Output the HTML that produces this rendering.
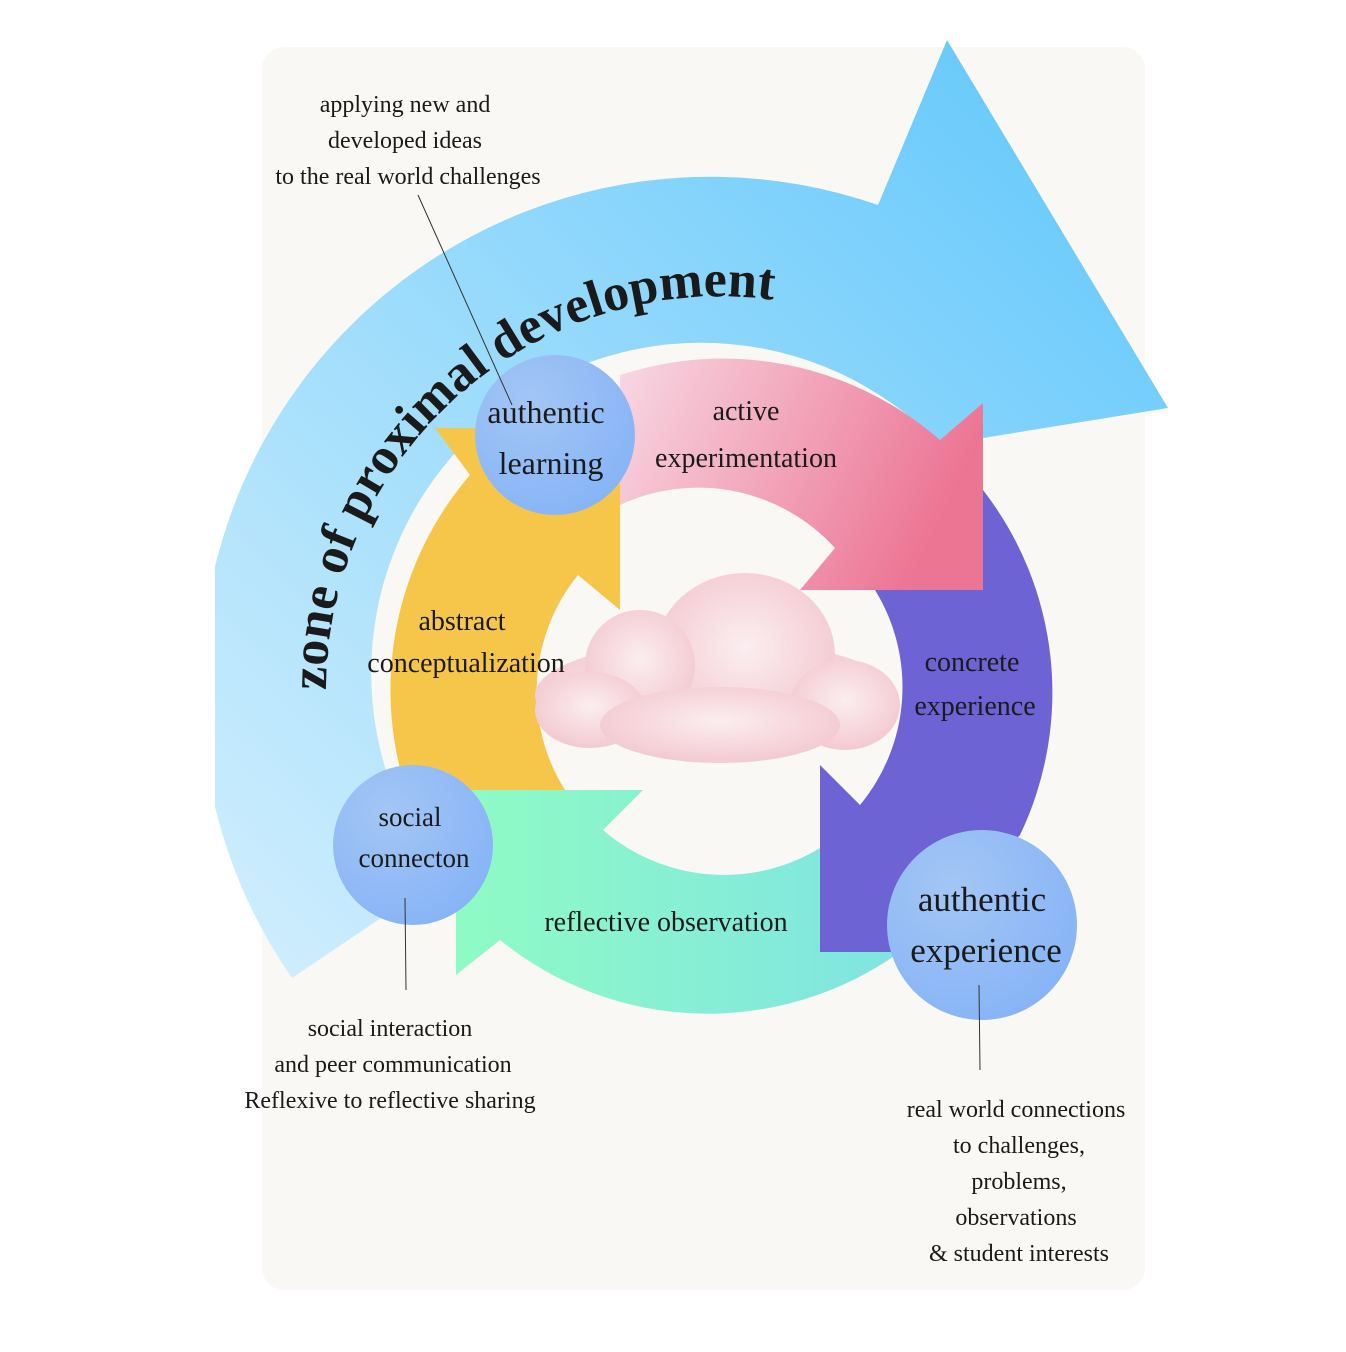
<!DOCTYPE html>
<html><head><meta charset="utf-8"><style>
html,body{margin:0;padding:0;background:#fff;}
svg{display:block}
text{font-family:"Liberation Serif",serif;fill:#1a1a1a}
</style></head><body>
<svg width="1346" height="1352" viewBox="0 0 1346 1352" xmlns="http://www.w3.org/2000/svg">
<defs>
<linearGradient id="gb" x1="0" y1="1" x2="1" y2="0"><stop offset="0" stop-color="#d3effd"/><stop offset="1" stop-color="#5ec6fb"/></linearGradient>
<linearGradient id="gp" x1="0" y1="0" x2="1" y2="0.3"><stop offset="0" stop-color="#f8d8e4"/><stop offset="1" stop-color="#ec7593"/></linearGradient>
<linearGradient id="gg" x1="0" y1="0" x2="1" y2="0"><stop offset="0" stop-color="#8ffbc4"/><stop offset="1" stop-color="#80e4e2"/></linearGradient>
<radialGradient id="gc" cx="0.35" cy="0.3" r="0.8"><stop offset="0" stop-color="#a3c6f4"/><stop offset="1" stop-color="#85b3f7"/></radialGradient>
<radialGradient id="cl" cx="0.5" cy="0.45" r="0.6"><stop offset="0" stop-color="#fbeef0"/><stop offset="1" stop-color="#f3c6cf"/></radialGradient>
<clipPath id="clip"><rect x="215" y="0" width="1131" height="1352"/></clipPath>
<path id="zp" d="M 326 690 A 394 394 0 0 1 870 326"/>
</defs>
<rect x="262" y="47" width="883" height="1243" rx="22" fill="#faf8f4"/>
<g clip-path="url(#clip)">
<path d="M 292 978 A 510 510 0 0 1 878 205 L 947 40 L 1168 408 L 940 445 A 330 330 0 0 0 442 877 Z" fill="url(#gb)"/>
</g>
<path d="M 620 375 A 330 330 0 0 1 940 440 L 983 403 L 983 590 L 800 590 L 835 548 A 185 185 0 0 0 620 505 Z" fill="url(#gp)"/>
<path d="M 983 490 A 330 330 0 0 1 1020 835 L 900 952 L 820 952 L 820 765 L 860 805 A 185 185 0 0 0 875 590 L 983 590 Z" fill="#6e63d4"/>
<path d="M 900 952 A 330 330 0 0 1 500 940 L 456 975 L 456 790 L 643 790 L 603 830 A 185 185 0 0 0 820 848 L 820 952 Z" fill="url(#gg)"/>
<path d="M 406 790 A 330 330 0 0 1 470 475 L 435 428 L 620 428 L 620 610 L 578 575 A 185 185 0 0 0 565 790 Z" fill="#f5c64a"/>
<g fill="url(#cl)">
<ellipse cx="715" cy="695" rx="180" ry="55"/>
<ellipse cx="745" cy="655" rx="90" ry="82"/>
<circle cx="640" cy="665" r="55"/>
<ellipse cx="845" cy="705" rx="55" ry="45"/>
<ellipse cx="590" cy="710" rx="55" ry="38"/>
<ellipse cx="720" cy="725" rx="120" ry="38"/>
</g>
<circle cx="555" cy="435" r="80" fill="url(#gc)"/>
<circle cx="413" cy="845" r="80" fill="url(#gc)"/>
<circle cx="982" cy="925" r="95" fill="url(#gc)"/>
<g stroke="#333" stroke-width="1">
<line x1="418" y1="195" x2="512" y2="405"/>
<line x1="405" y1="898" x2="406" y2="990"/>
<line x1="979" y1="985" x2="980" y2="1070"/>
</g>
<text font-size="52" font-weight="bold"><textPath href="#zp" textLength="672" lengthAdjust="spacing">zone of proximal development</textPath></text>
<g font-size="32" text-anchor="middle">
<text x="546" y="423">authentic</text><text x="551" y="474">learning</text>
<text x="746" y="420" font-size="28">active</text><text x="746" y="467" font-size="28">experimentation</text>
<text x="462" y="630" font-size="28">abstract</text><text x="466" y="672" font-size="28">conceptualization</text>
<text x="972" y="671" font-size="28">concrete</text><text x="975" y="715" font-size="28">experience</text>
<text x="410" y="826" font-size="27">social</text><text x="414" y="867" font-size="27">connecton</text>
<text x="666" y="931" font-size="28">reflective observation</text>
<text x="982" y="911" font-size="35">authentic</text><text x="986" y="962" font-size="35">experience</text>
</g>
<g font-size="24" text-anchor="middle">
<text x="405" y="112">applying new and</text>
<text x="405" y="148">developed ideas</text>
<text x="408" y="184">to the real world challenges</text>
<text x="390" y="1036">social interaction</text>
<text x="393" y="1072">and peer communication</text>
<text x="390" y="1108">Reflexive to reflective sharing</text>
<text x="1016" y="1117">real world connections</text>
<text x="1019" y="1153">to challenges,</text>
<text x="1019" y="1189">problems,</text>
<text x="1016" y="1225">observations</text>
<text x="1019" y="1261">&amp; student interests</text>
</g>
</svg>
</body></html>
